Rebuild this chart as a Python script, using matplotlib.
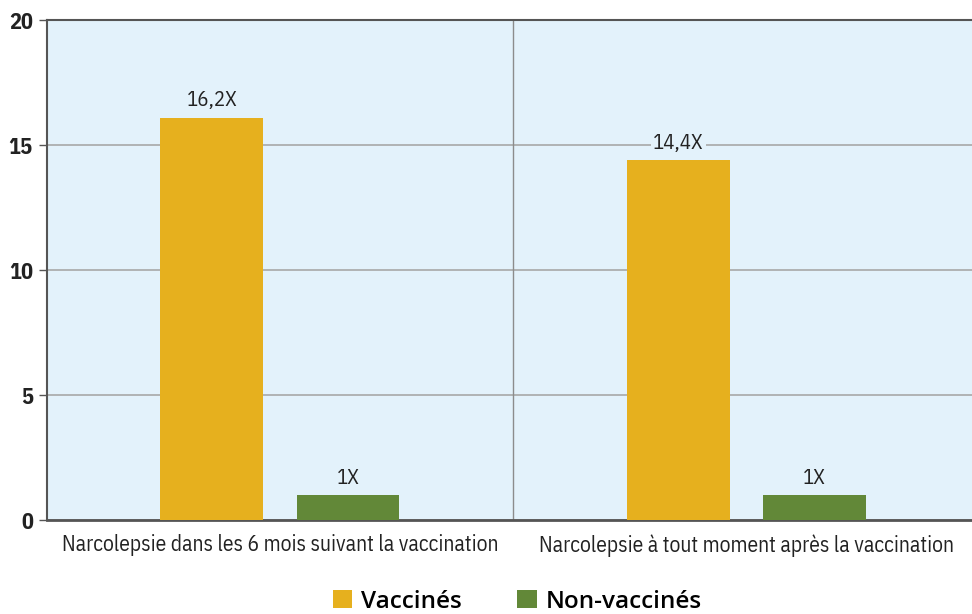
import matplotlib
matplotlib.use("Agg")
import matplotlib.pyplot as plt
import numpy as np
from matplotlib.patches import Patch

categories = ["Narcolepsie dans les 6 mois suivant la vaccination",
              "Narcolepsie à tout moment après la vaccination"]
vaccines = [16.1, 14.4]
non_vaccines = [1.0, 1.0]
vacc_labels = ["16,2X", "14,4X"]
nonvacc_labels = ["1X", "1X"]
series_names = ["Vaccinés", "Non-vaccinés"]
yticks = [0, 5, 10, 15, 20]

BG = "#E3F2FB"
ORANGE = "#E6B01E"
GREEN = "#628838"
narrow = ["IBM Plex Sans Condensed", "DejaVu Sans"]
legend_font = ["Open Sans", "DejaVu Sans"]

fig = plt.figure(figsize=(9.72, 6.14), dpi=100)
ax = fig.add_axes([0.048, 0.153, 0.96, 0.814])
ax.set_facecolor(BG)

x = np.arange(len(categories))
w = 0.22
off = 0.146
b1 = ax.bar(x - off, vaccines, w, color=ORANGE, zorder=3)
b2 = ax.bar(x + off, non_vaccines, w, color=GREEN, zorder=3)

for rect, lab in zip(b1, vacc_labels):
    ax.text(rect.get_x() + rect.get_width() / 2, rect.get_height() + 0.3, lab,
            ha="center", va="bottom", fontsize=15, family=narrow, color="#222222", zorder=4,
            bbox=dict(facecolor=BG, edgecolor="none", pad=1.5))
for rect, lab in zip(b2, nonvacc_labels):
    ax.text(rect.get_x() + rect.get_width() / 2, rect.get_height() + 0.3, lab,
            ha="center", va="bottom", fontsize=15, family=narrow, color="#222222", zorder=4)

ax.set_xlim(-0.5, 1.5)
ax.set_ylim(0, 20)
ax.set_yticks(yticks)
ax.set_yticklabels([str(t) for t in yticks], fontsize=16, fontweight="bold", family=narrow, color="#222222")
ax.set_xticks(x)
ax.set_xticklabels(categories, fontsize=15.5, family=narrow, color="#222222")
ax.tick_params(axis="x", length=0, pad=10)
ax.tick_params(axis="y", length=6, width=1, color="#555555", pad=4)

ax.yaxis.grid(True, color="#A8A8A8", linewidth=1.2, zorder=1)
ax.set_axisbelow(True)
ax.axvline(0.5, color="#8C8C8C", linewidth=1, zorder=1)

ax.spines["right"].set_visible(False)
ax.spines["top"].set_color("#555555")
ax.spines["top"].set_linewidth(1.5)
ax.spines["left"].set_color("#555555")
ax.spines["left"].set_linewidth(1.5)
ax.spines["bottom"].set_color("#555555")
ax.spines["bottom"].set_linewidth(2)

handles = [Patch(facecolor=ORANGE, edgecolor="none"), Patch(facecolor=GREEN, edgecolor="none")]
fig.legend(handles, series_names, loc="lower center", bbox_to_anchor=(0.532, -0.035), ncol=2,
           frameon=False, prop=dict(family=legend_font, weight="semibold", size=17.5),
           handlelength=0.8, handleheight=0.8, handletextpad=0.35, columnspacing=2.3)

fig.savefig("out.png", dpi=100)
